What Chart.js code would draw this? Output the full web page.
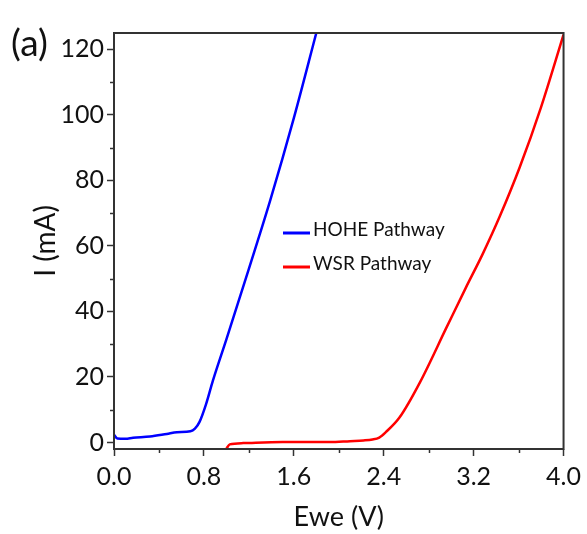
<!DOCTYPE html>
<html>
<head>
<meta charset="utf-8">
<script src="https://cdn.jsdelivr.net/npm/chart.js@4.4.0/dist/chart.umd.min.js"></script>
<style>
  html, body { margin: 0; padding: 0; background: #fff; }
  #wrap { width: 587px; height: 534px; }
</style>
</head>
<body>
<div id="wrap"><canvas id="iv"></canvas></div>
<script>
// HOHE pathway (blue)
var hoheV = [0.00, 0.03, 0.10, 0.17, 0.32, 0.47, 0.56, 0.68, 0.72, 0.76, 0.82, 0.88, 1.00, 1.20, 1.39, 1.60, 1.80];
var hoheI = [2.3, 1.2, 1.1, 1.4, 1.8, 2.6, 3.1, 3.4, 4.2, 6.2, 11.8, 18.9, 31.5, 53, 73.9, 99.0, 125];
// WSR pathway (red)
var wsrV = [1.00, 1.03, 1.15, 1.50, 1.92, 2.10, 2.22, 2.30, 2.36, 2.42, 2.54, 2.72, 2.96, 3.13, 3.28, 3.43, 3.61, 3.80, 4.00];
var wsrI = [-1.9, -0.6, -0.2, 0.1, 0.1, 0.4, 0.6, 0.9, 1.5, 3.2, 7.6, 18.2, 35.2, 47.2, 57.5, 68.8, 84.0, 102.4, 124.5];

var seriesNames = ["HOHE Pathway", "WSR Pathway"];
var seriesColors = ["#0000ff", "#ff0000"];

var xMin = 0, xMax = 4.0, xStep = 0.4;
var yMin = -2, yMax = 125, yStep = 10;

var FONT = "Lato, 'DejaVu Sans Condensed', sans-serif";

function zip(xs, ys){
    let out = [];
    for (let i = 0; i < xs.length; i++) out.push({x: xs[i], y: ys[i]});
    return out;
}

// box frame, minor ticks, inner legend and panel letter
var decor = {
    id: "decor",
    afterDraw: function(chart){
        let ctx = chart.ctx;
        let a = chart.chartArea;
        ctx.save();
        ctx.strokeStyle = "#333";
        ctx.lineWidth = 2;
        ctx.strokeRect(a.left, a.top, a.right - a.left, a.bottom - a.top);

        // minor ticks
        ctx.lineWidth = 1.5;
        let xs = chart.scales.x, ys = chart.scales.y;
        xs.ticks.forEach(function(t, i){
            if (i % 2 === 1) {
                let px = Math.round(xs.getPixelForValue(t.value)) + 0.5;
                ctx.beginPath(); ctx.moveTo(px, a.bottom); ctx.lineTo(px, a.bottom + 4); ctx.stroke();
            }
        });
        ys.ticks.forEach(function(t){
            if (Math.round(t.value) % 20 !== 0) {
                let py = Math.round(ys.getPixelForValue(t.value)) + 0.5;
                ctx.beginPath(); ctx.moveTo(a.left, py); ctx.lineTo(a.left - 4, py); ctx.stroke();
            }
        });

        // legend inside plot
        ctx.font = "19px " + FONT;
        ctx.textBaseline = "middle";
        ctx.fillStyle = "#111";
        chart.data.datasets.forEach(function(ds, i){
            let ly = a.top + 200 + i * 34;
            ctx.strokeStyle = ds.borderColor;
            ctx.lineWidth = 3;
            ctx.beginPath(); ctx.moveTo(a.left + 169, ly); ctx.lineTo(a.left + 196, ly); ctx.stroke();
            ctx.fillText(ds.label, a.left + 199, ly - 3);
        });

        ctx.font = "37px " + FONT;
        ctx.textBaseline = "alphabetic";
        ctx.fillText("(a)", 11, 56);
        ctx.restore();
    }
};

var ctx = document.getElementById("iv");
var chart = new Chart(ctx, {
    type: "line",
    data: {
        datasets: [
            {label: seriesNames[0], data: zip(hoheV, hoheI), borderColor: seriesColors[0], borderWidth: 2.5, pointRadius: 0, cubicInterpolationMode: "monotone"},
            {label: seriesNames[1], data: zip(wsrV, wsrI), borderColor: seriesColors[1], borderWidth: 2.5, pointRadius: 0, cubicInterpolationMode: "monotone"}
        ]
    },
    options: {
        responsive: true,
        maintainAspectRatio: false,
        animation: false,
        layout: {padding: {top: 33, right: 23, left: 0, bottom: 0}},
        plugins: {legend: {display: false}, tooltip: {enabled: false}},
        scales: {
            x: {
                type: "linear",
                min: xMin, max: xMax,
                border: {display: false},
                grid: {drawOnChartArea: false, tickLength: 7, tickWidth: 1.5,
                    tickColor: function(c){ return c.index % 2 === 0 ? "#333" : "rgba(0,0,0,0)"; }},
                ticks: {stepSize: xStep, color: "#111", padding: 6, maxRotation: 0, autoSkip: false,
                    font: {family: FONT, size: 25},
                    callback: function(v, i){ return i % 2 === 0 ? v.toFixed(1) : ""; }},
                title: {display: true, text: "Ewe (V)", color: "#111", font: {family: FONT, size: 27}, padding: {top: 0, bottom: 1}},
                afterFit: function(s){ s.height = 85; }
            },
            y: {
                type: "linear",
                min: yMin, max: yMax,
                border: {display: false},
                grid: {drawOnChartArea: false, tickLength: 7, tickWidth: 1.5,
                    tickColor: function(c){ return c.tick && Math.round(c.tick.value) % 20 === 0 ? "#333" : "rgba(0,0,0,0)"; }},
                ticks: {stepSize: yStep, includeBounds: false, color: "#111", padding: 3, autoSkip: false,
                    font: {family: FONT, size: 25},
                    callback: function(v){ return Math.round(v) % 20 === 0 ? String(Math.round(v)) : ""; }},
                title: {display: true, text: "I (mA)", color: "#111", font: {family: FONT, size: 28}, padding: {top: 29, bottom: 0}},
                afterFit: function(s){ s.width = 114; }
            }
        }
    },
    plugins: [decor]
});
</script>
</body>
</html>
